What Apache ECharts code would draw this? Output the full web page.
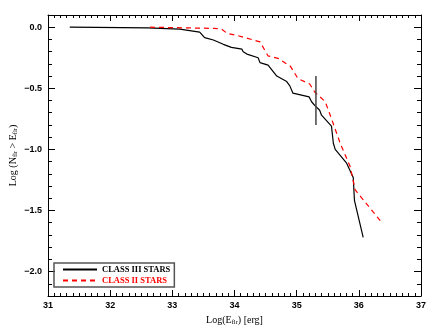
<!DOCTYPE html>
<html lang="en">
<head>
    <meta charset="UTF-8">
    <title>Flare energy distribution</title>
    <script src="https://cdn.jsdelivr.net/npm/echarts@6/dist/echarts.min.js"></script>
    <style>
        body { margin: 0; padding: 0; background: #fff; }
        #chart { width: 436px; height: 327px; }
    </style>
</head>
<body>
    <div id="chart"></div>
    <script>
        // cumulative distributions: [log E, log N(>E)]
        const classIII = [
            [31.35, 0.0], [32.6, -0.006], [33.12, -0.016], [33.44, -0.04], [33.52, -0.085],
            [33.66, -0.105], [33.82, -0.14], [33.95, -0.165], [34.12, -0.18], [34.14, -0.2],
            [34.2, -0.22], [34.38, -0.25], [34.41, -0.29], [34.54, -0.31], [34.68, -0.40],
            [34.84, -0.445], [34.89, -0.48], [34.94, -0.54], [35.2, -0.57], [35.24, -0.61],
            [35.29, -0.64], [35.37, -0.68], [35.40, -0.72], [35.56, -0.81], [35.59, -0.95],
            [35.62, -1.0], [35.80, -1.11], [35.91, -1.23], [35.93, -1.42], [36.07, -1.72]
        ];
        const classII = [
            [32.64, 0.0], [33.2, -0.005], [33.68, -0.01], [33.79, -0.015], [33.88, -0.05],
            [34.06, -0.07], [34.41, -0.12], [34.54, -0.235], [34.7, -0.255], [34.9, -0.32],
            [35.02, -0.42], [35.21, -0.465], [35.29, -0.53], [35.46, -0.61], [35.54, -0.72],
            [35.70, -0.95], [35.86, -1.14], [35.94, -1.33], [36.37, -1.60]
        ];
        const errorBar = [[35.31, -0.40], [35.31, -0.80]];
        const xRange = [31, 37];
        const yRange = [-2.2, 0.1];

        const tickFont = { fontFamily: 'Liberation Sans', fontWeight: 'bold', fontSize: 9, color: '#000' };
        const subRich = { sub: { fontSize: 6.5, fontFamily: 'Liberation Serif', verticalAlign: 'bottom', padding: [4, 0, 0, 0] } };

        function yLabel(v) {
            if (Math.abs(v * 2 - Math.round(v * 2)) > 1e-6) return '';
            const s = Math.abs(v).toFixed(1);
            return v < -1e-9 ? '\u2212' + s : s;
        }

        function xAxisDef(pos, show) {
            return {
                type: 'value', position: pos, min: xRange[0], max: xRange[1], interval: 1,
                axisLine: { show: true, onZero: false, lineStyle: { color: '#000', width: 1 } },
                axisTick: { show: true, inside: true, length: 6, lineStyle: { color: '#000' } },
                minorTick: { show: true, splitNumber: 10, length: 3, lineStyle: { color: '#000' } },
                axisLabel: { show: show, margin: 5, ...tickFont },
                splitLine: { show: false },
                name: show ? 'Log(E{sub|flr}) [erg]' : '',
                nameLocation: 'middle', nameGap: 17,
                nameTextStyle: { fontFamily: 'Liberation Serif', fontSize: 10, color: '#000', rich: subRich }
            };
        }

        function yAxisDef(pos, show) {
            return {
                type: 'value', position: pos, min: yRange[0], max: yRange[1], splitNumber: 5,
                axisLine: { show: true, onZero: false, lineStyle: { color: '#000', width: 1 } },
                axisTick: { show: true, inside: true, length: 7, lineStyle: { color: '#000' } },
                minorTick: { show: true, splitNumber: 5, length: 4, lineStyle: { color: '#000' } },
                axisLabel: { show: show, margin: 6, formatter: yLabel, ...tickFont },
                splitLine: { show: false },
                name: show ? 'Log (N{sub|flr} > E{sub|flr})' : '',
                nameLocation: 'middle', nameGap: 29, nameRotate: 90, nameMoveOverlap: false,
                nameTextStyle: { fontFamily: 'Liberation Serif', fontSize: 10, color: '#000', rich: subRich }
            };
        }

        const chart = echarts.init(document.getElementById('chart'));
        chart.setOption({
            animation: false,
            backgroundColor: '#fff',
            grid: { left: 48, right: 15, top: 15, bottom: 31, outerBoundsMode: 'none' },
            xAxis: [xAxisDef('bottom', true), xAxisDef('top', false)],
            yAxis: [yAxisDef('left', true), yAxisDef('right', false)],
            legend: {
                orient: 'vertical', left: 54, top: 263,
                itemWidth: 34, itemHeight: 8, itemGap: 2,
                padding: [2, 4, 2, 8],
                borderColor: '#555', borderWidth: 1.5,
                itemStyle: { opacity: 0 },
                textStyle: { fontFamily: 'Liberation Serif', fontWeight: 'bold', fontSize: 8.5 },
                data: [
                    { name: 'CLASS III STARS', textStyle: { color: '#000' } },
                    { name: 'CLASS II STARS', textStyle: { color: '#ff0000' } }
                ]
            },
            series: [
                {
                    name: 'CLASS III STARS', type: 'line', data: classIII, symbol: 'none',
                    lineStyle: { color: '#000', width: 1.2 }, itemStyle: { color: '#000' }
                },
                {
                    name: 'CLASS II STARS', type: 'line', data: classII, symbol: 'none',
                    lineStyle: { color: '#ff0000', width: 1.2, type: [5, 4] }, itemStyle: { color: '#ff0000' }
                },
                {
                    name: 'error', type: 'line', data: errorBar, symbol: 'none',
                    lineStyle: { color: '#444', width: 1.5 }
                }
            ]
        });
    </script>
</body>
</html>
